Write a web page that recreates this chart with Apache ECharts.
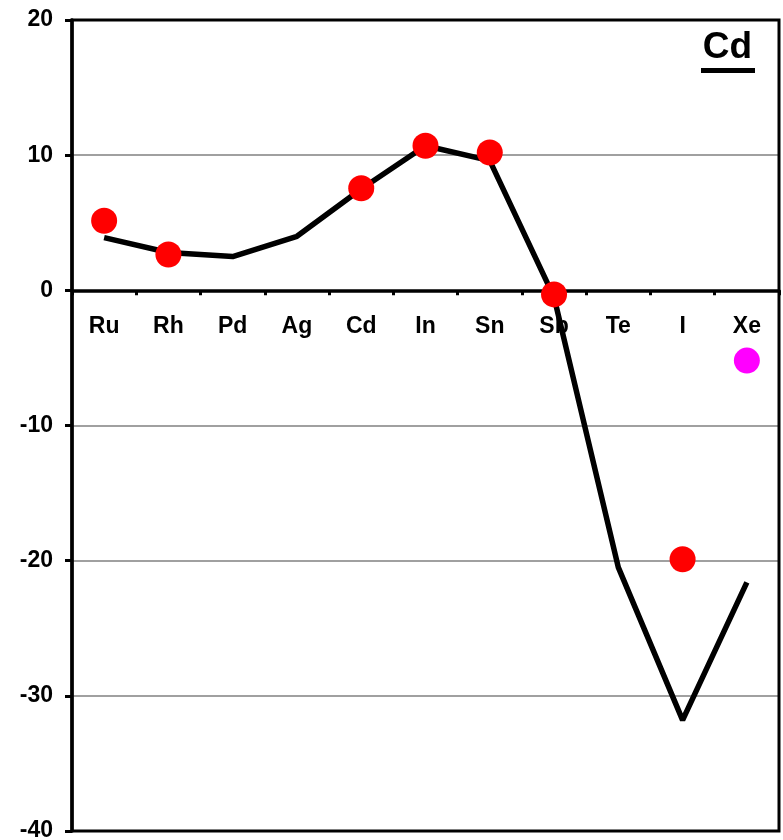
<!DOCTYPE html>
<html>
<head>
<meta charset="utf-8">
<script src="https://cdn.jsdelivr.net/npm/echarts@6/dist/echarts.min.js"></script>
<style>
  html, body { margin: 0; padding: 0; background: #fff; }
  #chart { width: 783px; height: 840px; }
</style>
</head>
<body>
<div id="chart"></div>
<script>
const elements = ['Ru', 'Rh', 'Pd', 'Ag', 'Cd', 'In', 'Sn', 'Sb', 'Te', 'I', 'Xe'];
// black curve
const lineValues = [3.9, 2.8, 2.5, 4.0, 7.5, 10.7, 9.6, -0.5, -20.5, -31.8, -21.6];
// red points (measured)
const redPoints = [5.15, 2.65, null, null, 7.55, 10.7, 10.2, -0.3, null, -19.9, null];
// magenta point
const magentaPoints = [null, null, null, null, null, null, null, null, null, null, -5.2];
const yTicks = [-40, -30, -20, -10, 0, 10, 20];

const chart = echarts.init(document.getElementById('chart'));
const font = 'Liberation Sans, Arial, sans-serif';

// grid geometry: zero line sits 40/60 of the plot height above the bottom
const gridTop = 20, gridBottom = 9;
const plotH = 840 - gridTop - gridBottom;
const zeroOffset = plotH * (0 - yTicks[0]) / (yTicks[yTicks.length - 1] - yTicks[0]);

chart.setOption({
  animation: false,
  grid: {
    left: 72, right: 4, top: gridTop, bottom: gridBottom,
    outerBoundsMode: 'none',
    show: true, borderColor: '#000', borderWidth: 3, z: 5
  },
  graphic: [
    {
      type: 'text', right: 31, top: 29,
      style: { text: 'Cd', font: 'bold 37px ' + font, fill: '#000' }
    },
    {
      type: 'rect', shape: { x: 701, y: 68, width: 54, height: 5 },
      style: { fill: '#000' }
    }
  ],
  xAxis: {
    type: 'category',
    data: elements,
    boundaryGap: true,
    offset: -zeroOffset,
    axisLine: { onZero: false, lineStyle: { color: '#000', width: 3.5 } },
    axisTick: { show: true, length: 5, lineStyle: { color: '#000', width: 3 } },
    axisLabel: { margin: 25, color: '#000', fontSize: 23, fontWeight: 'bold', fontFamily: font },
    splitLine: { show: false }
  },
  yAxis: {
    type: 'value',
    min: yTicks[0], max: yTicks[yTicks.length - 1], interval: 10,
    axisLine: { show: true, onZero: false, lineStyle: { color: '#000', width: 3.5 } },
    axisTick: { show: true, length: 7, lineStyle: { color: '#000', width: 3 } },
    axisLabel: { margin: 19, color: '#000', fontSize: 23, fontWeight: 'bold', fontFamily: font },
    splitLine: {
      show: true, showMinLine: false, showMaxLine: false,
      lineStyle: { color: '#808080', width: 1.5 }
    }
  },
  series: [
    {
      type: 'line', data: lineValues, symbol: 'none',
      lineStyle: { color: '#000', width: 5.5 }, z: 2
    },
    {
      type: 'scatter', data: redPoints, symbolSize: 26,
      itemStyle: { color: '#ff0000', opacity: 1 }, z: 3
    },
    {
      type: 'scatter', data: magentaPoints, symbolSize: 26,
      itemStyle: { color: '#ff00ff', opacity: 1 }, z: 3
    }
  ]
});
</script>
</body>
</html>
